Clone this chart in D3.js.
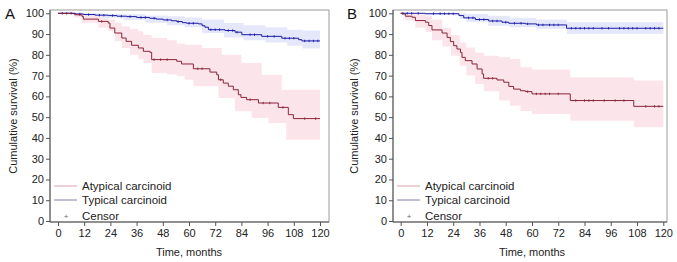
<!DOCTYPE html>
<html>
<head>
<meta charset="utf-8">
<script src="https://cdn.jsdelivr.net/npm/d3@7"></script>
<style>
  body { margin: 0; background: #fff; }
  svg { font-family: "Liberation Sans", Arial, sans-serif; }
</style>
</head>
<body>
<script>
// ticks
const xTicks = [0, 12, 24, 36, 48, 60, 72, 84, 96, 108, 120];
const yTicks = [0, 10, 20, 30, 40, 50, 60, 70, 80, 90, 100];
const legendLabels = ["Atypical carcinoid", "Typical carcinoid", "Censor"];

// panel A, atypical: KM steps
const aAtypTime = [0, 7.5, 11, 11.6, 18.5, 23, 23.8, 26, 29.2, 31.2, 33.7, 36.8, 39.1, 42.1, 42.9, 54.4, 56.6, 62, 69.6, 72.7, 73.5, 75.7, 78, 80.3, 82.6, 83.8, 86.4, 91.8, 100.9, 105.5, 107.8, 120];
const aAtypSurv = [100, 99.3, 98.5, 97.2, 96.1, 95.3, 92.9, 90.5, 88.1, 86.5, 84.6, 83.3, 81.7, 81.2, 77.7, 76.9, 75.6, 73.3, 71.7, 70.4, 68, 66.4, 64.9, 63.2, 60.8, 59.5, 58.4, 56.8, 54.7, 51.2, 49.3, 49.3];
const aAtypBandTime = [0, 7.5, 11, 18.5, 23, 26, 29.2, 33, 36.8, 39.1, 42.9, 50, 54.4, 58, 62, 66, 73.5, 75, 81, 84, 88.7, 93.3, 96.4, 102.5, 104.5, 120];
const aAtypLo = [100, 98, 95.5, 93, 91.3, 86.5, 83.3, 80.1, 78, 76.1, 71.3, 70.5, 69.7, 68, 64.9, 64.9, 59.2, 59.2, 52.8, 52.8, 49.6, 49.6, 47.2, 47.2, 39.1, 39.1];
const aAtypHi = [100, 100, 99.5, 98.5, 97, 95.5, 93.7, 92.5, 91.3, 89.5, 88.1, 87, 85.5, 84.9, 84.9, 83.3, 83.3, 80.1, 80.1, 76.1, 76.1, 70.4, 70.4, 63.2, 63.2, 63.2];
const aAtypCensor = [10, 20, 44, 47, 50, 64, 66, 74.5, 88, 94, 97, 103, 113, 118];

// panel A, typical
const aTypTime = [0, 8, 11.6, 17, 23, 27, 31.5, 36, 42, 45, 48.2, 52, 54.4, 57, 58.9, 64.3, 66, 67.3, 68.9, 76.5, 81.1, 84.2, 93.3, 102.5, 110.2, 111.7, 120];
const aTypSurv = [100, 99.7, 99.4, 99.1, 98.9, 98.6, 98.4, 98, 97.6, 97.2, 96.8, 96.4, 96, 95.5, 95.2, 94.9, 94, 93.3, 92.1, 91.7, 90.9, 89.7, 88.9, 88, 87.3, 86.7, 86.7];
const aTypBandTime = [0, 10, 20, 30, 40, 50, 58, 66, 76, 85, 95, 105, 112, 120];
const aTypLo = [100, 98.8, 97.8, 96.8, 95.5, 94.3, 93.3, 90.5, 88.4, 87, 86, 84.4, 83, 83];
const aTypHi = [100, 100, 99.8, 99.5, 99, 98.6, 98, 97, 95.3, 94.3, 93.3, 92.1, 91.7, 91.7];
const aTypCensor = [2, 4, 6, 10, 14, 19, 21, 25, 29, 33, 38, 40, 44, 50, 55, 60, 62, 70, 72, 74, 78, 80, 82, 88, 90, 96, 99, 104, 106, 108, 113, 115, 117, 119];

// panel B, atypical
const bAtypTime = [0, 0.6, 2.1, 5.2, 6.7, 11.3, 12.8, 14.3, 18.9, 21.2, 22.7, 24.2, 25.7, 27.3, 28, 29.5, 32.6, 34.9, 37.2, 37.9, 44, 47.1, 49.4, 51.6, 54.7, 57, 60, 77.5, 106.5, 120];
const bAtypSurv = [100, 99.7, 98.6, 98.1, 96.5, 95.7, 94.1, 92, 90.5, 88.4, 86.4, 84.4, 82.8, 81.2, 78.8, 77.2, 75.6, 73.2, 70.8, 68.7, 67.9, 66.8, 64.8, 63.5, 62.7, 62.3, 61.2, 58, 55.2, 55.2];
const bAtypBandTime = [0, 2, 6.7, 11.3, 14.3, 19, 23, 27, 30, 34, 38, 45, 50, 54.7, 60, 77.5, 106.5, 120];
const bAtypLo = [100, 96.5, 93, 91, 87, 84, 79.6, 74.8, 70, 66, 62.5, 58, 55.5, 53, 51.5, 48.3, 45.1, 45.1];
const bAtypHi = [100, 100, 99.5, 99, 97, 93, 89.5, 86, 83.5, 81, 79.6, 78.8, 78, 74, 73, 69.2, 67.6, 67.6];
const bAtypCensor = [40, 42, 58, 62, 64, 66, 68, 72, 80, 84, 86, 88, 93, 98, 102, 112, 116, 118];

// panel B, typical
const bTypTime = [0, 11.3, 26.6, 28.8, 34.1, 40.2, 46.3, 49.4, 57, 62.1, 75.8, 120];
const bTypSurv = [100, 99.8, 98.9, 97.8, 97, 96.3, 95.7, 95.2, 94.9, 94.4, 92.8, 92.8];
const bTypBandTime = [0, 11, 27, 30, 40, 50, 62, 76, 120];
const bTypLo = [100, 99.3, 97.2, 95.8, 94, 93.3, 92.5, 90, 90];
const bTypHi = [100, 100, 100, 99.7, 98.8, 97.8, 97, 95.7, 95.7];
const bTypCensor = [1, 3, 5, 8, 15, 18, 20, 22, 24, 31, 33, 36, 38, 42, 44, 48, 52, 55, 58, 63, 65, 68, 70, 72, 78, 80, 82, 84, 86, 88, 92, 95, 100, 102, 104, 106, 108, 112, 114, 116, 118];

const redLine = "#8a2438", blueLine = "#1c1ca6";
const redBand = "#fce5ea", blueBand = "#e5e7fb";

const svg = d3.select("body").append("svg").attr("width", 677).attr("height", 262);

function stepValue(times, surv, t) {
  let v = surv[0];
  times.forEach((tt, i) => { if (tt <= t) v = surv[i]; });
  return v;
}

function drawPanel(p) {
  const g = svg.append("g");
  const X = d3.scaleLinear().domain([0, 120]).range([p.x0, p.x1]);
  const Y = d3.scaleLinear().domain([0, 100]).range([221, 13.3]);

  // bands
  [p.atyp, p.typ].forEach(c => {
    const area = d3.area().curve(d3.curveStepAfter)
      .x(d => X(d[0])).y0(d => Y(d[1])).y1(d => Y(d[2]));
    g.append("path")
      .attr("d", area(c.bandTime.map((t, i) => [t, c.lo[i], c.hi[i]])))
      .attr("fill", c.band);
  });

  // frame
  g.append("rect").attr("x", p.left).attr("y", 10)
    .attr("width", p.right - p.left).attr("height", 212)
    .attr("fill", "none").attr("stroke", "#9a9a9a").attr("stroke-width", 1);
  g.append("line").attr("x1", p.left).attr("x2", p.left).attr("y1", 10).attr("y2", 222)
    .attr("stroke", "#555");
  g.append("line").attr("x1", p.left).attr("x2", p.right).attr("y1", 222).attr("y2", 222)
    .attr("stroke", "#555");

  // curves
  [p.typ, p.atyp].forEach(c => {
    const line = d3.line().curve(d3.curveStepAfter).x(d => X(d[0])).y(d => Y(d[1]));
    g.append("path")
      .attr("d", line(c.time.map((t, i) => [t, c.surv[i]])))
      .attr("fill", "none").attr("stroke", c.color).attr("stroke-width", 1);
    c.censor.forEach(t => {
      const y = Y(stepValue(c.time, c.surv, t));
      g.append("line").attr("x1", X(t)).attr("x2", X(t))
        .attr("y1", y - 1.2).attr("y2", y + 1.2)
        .attr("stroke", c.color).attr("stroke-width", 0.9);
    });
  });

  // axes
  const yAxis = d3.axisLeft(Y).tickValues(yTicks).tickSize(4).tickPadding(2);
  const ya = g.append("g").attr("transform", `translate(${p.left},0)`).call(yAxis);
  ya.select(".domain").remove();
  ya.selectAll("line").attr("stroke", "#555");
  ya.selectAll("text").attr("font-size", 11).attr("fill", "#222")
    .attr("font-family", "Liberation Sans, Arial, sans-serif");

  const xAxis = d3.axisBottom(X).tickValues(xTicks).tickSize(4).tickPadding(3);
  const xa = g.append("g").attr("transform", "translate(0,222)").call(xAxis);
  xa.select(".domain").remove();
  xa.selectAll("line").attr("stroke", "#555");
  xa.selectAll("text").attr("font-size", 11).attr("fill", "#222")
    .attr("font-family", "Liberation Sans, Arial, sans-serif");

  g.append("text").attr("x", X(60)).attr("y", 256).attr("text-anchor", "middle")
    .attr("font-size", 11).attr("fill", "#222").text("Time, months");
  g.append("text")
    .attr("transform", `translate(${p.titleX},116) rotate(-90)`)
    .attr("text-anchor", "middle").attr("font-size", 11).attr("fill", "#222")
    .text("Cumulative survival (%)");
  g.append("text").attr("x", p.letterX).attr("y", 19).attr("font-size", 15)
    .attr("fill", "#111").text(p.letter);

  // legend
  const lx = p.left + 4;
  const legendRows = [
    { label: legendLabels[0], color: "#d9a3b0", y: 186 },
    { label: legendLabels[1], color: "#8080a8", y: 200 },
    { label: legendLabels[2], color: null, y: 216 }
  ];
  legendRows.forEach(r => {
    if (r.color) {
      g.append("line").attr("x1", lx).attr("x2", lx + 23).attr("y1", r.y).attr("y2", r.y)
        .attr("stroke", r.color).attr("stroke-width", 1);
    } else {
      g.append("text").attr("x", lx + 12).attr("y", r.y + 3).attr("text-anchor", "middle")
        .attr("font-size", 8).attr("fill", "#666").text("+");
    }
    g.append("text").attr("x", lx + 28).attr("y", r.y + 4)
      .attr("font-size", 11.5).attr("fill", "#222").text(r.label);
  });
}

drawPanel({
  letter: "A", letterX: 5, titleX: 17, left: 50, right: 329, x0: 58, x1: 320,
  atyp: { time: aAtypTime, surv: aAtypSurv, bandTime: aAtypBandTime, lo: aAtypLo, hi: aAtypHi, censor: aAtypCensor, color: redLine, band: redBand },
  typ: { time: aTypTime, surv: aTypSurv, bandTime: aTypBandTime, lo: aTypLo, hi: aTypHi, censor: aTypCensor, color: blueLine, band: blueBand }
});
drawPanel({
  letter: "B", letterX: 347, titleX: 358, left: 393, right: 667, x0: 400.7, x1: 663.3,
  atyp: { time: bAtypTime, surv: bAtypSurv, bandTime: bAtypBandTime, lo: bAtypLo, hi: bAtypHi, censor: bAtypCensor, color: redLine, band: redBand },
  typ: { time: bTypTime, surv: bTypSurv, bandTime: bTypBandTime, lo: bTypLo, hi: bTypHi, censor: bTypCensor, color: blueLine, band: blueBand }
});
</script>
</body>
</html>
